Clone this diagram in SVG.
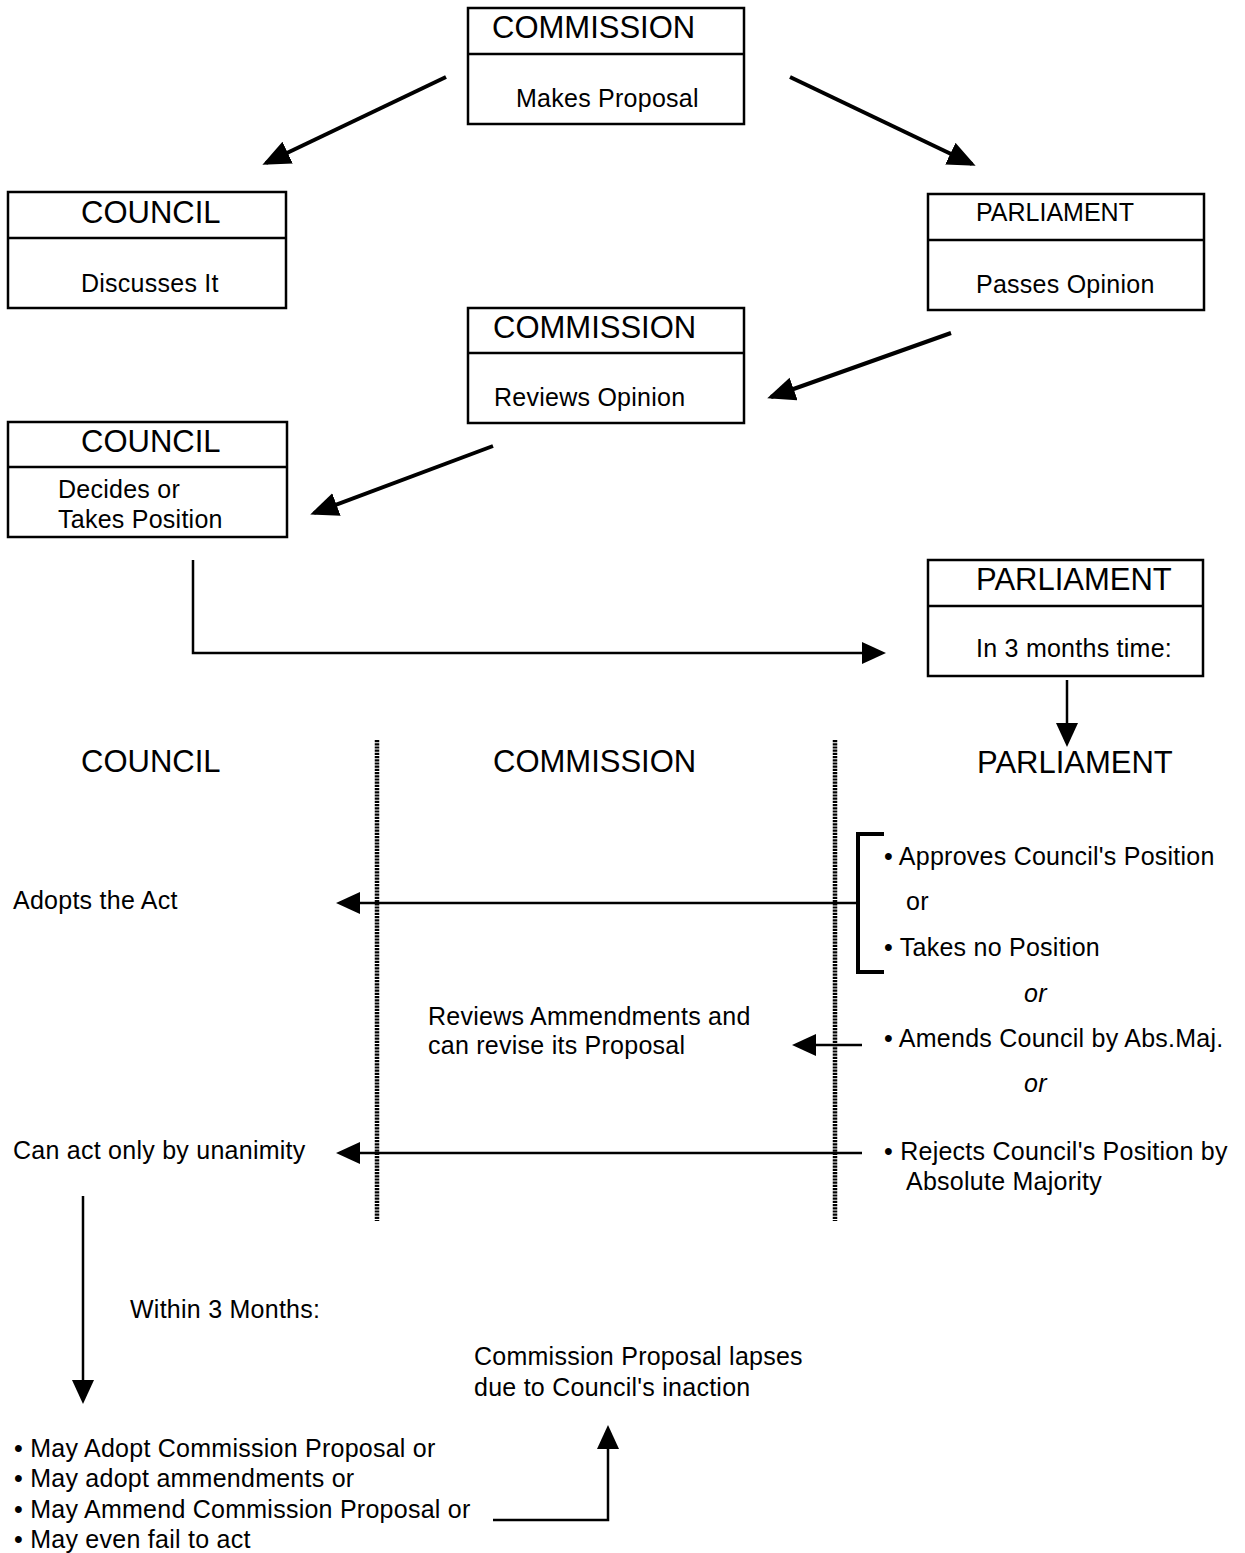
<svg xmlns="http://www.w3.org/2000/svg" width="1245" height="1553" viewBox="0 0 1245 1553">
  <defs>
    <style>
      .box { fill: #fff; stroke: #000; stroke-width: 2.5; }
      .div { stroke: #000; stroke-width: 2.5; }
      .hd { font-family: "Liberation Sans", Arial, sans-serif; font-size: 31px; fill: #000; }
      .hs { font-family: "Liberation Sans", Arial, sans-serif; font-size: 25px; fill: #000; }
      .tx { font-family: "Liberation Sans", Arial, sans-serif; font-size: 25px; fill: #000; letter-spacing: 0.25px; }
      .it { font-style: italic; }
      .con { fill: none; stroke: #000; stroke-width: 2.5; }
      .thick { stroke-width: 4; }
      .dots { fill: none; stroke: #000; stroke-width: 4.5; stroke-dasharray: 2.2 1; }
    </style>
    <marker id="bigHead" markerUnits="userSpaceOnUse" markerWidth="30" markerHeight="26" refX="24" refY="12" orient="auto">
      <path d="M0,0 L28,12 L0,24 z" fill="#000"/>
    </marker>
    <marker id="head" markerUnits="userSpaceOnUse" markerWidth="26" markerHeight="24" refX="20" refY="11" orient="auto">
      <path d="M0,0 L24,11 L0,22 z" fill="#000"/>
    </marker>
  </defs>

  <rect width="1245" height="1553" fill="#fff"/>

  <!-- first stage boxes -->
  <g id="commission-proposal">
    <rect class="box" x="468" y="8" width="276" height="116"/>
    <line class="div" x1="468" y1="54" x2="744" y2="54"/>
    <text class="hd" x="492" y="38">COMMISSION</text>
    <text class="tx" x="516" y="107">Makes Proposal</text>
  </g>
  <g id="council-discusses">
    <rect class="box" x="8" y="192" width="278" height="116"/>
    <line class="div" x1="8" y1="238" x2="286" y2="238"/>
    <text class="hd" x="81" y="223">COUNCIL</text>
    <text class="tx" x="81" y="292">Discusses It</text>
  </g>
  <g id="parliament-opinion">
    <rect class="box" x="928" y="194" width="276" height="116"/>
    <line class="div" x1="928" y1="240" x2="1204" y2="240"/>
    <text class="hs" x="976" y="221">PARLIAMENT</text>
    <text class="tx" x="976" y="293">Passes Opinion</text>
  </g>
  <g id="commission-reviews">
    <rect class="box" x="468" y="308" width="276" height="115"/>
    <line class="div" x1="468" y1="353" x2="744" y2="353"/>
    <text class="hd" x="493" y="338">COMMISSION</text>
    <text class="tx" x="494" y="406">Reviews Opinion</text>
  </g>
  <g id="council-decides">
    <rect class="box" x="8" y="422" width="279" height="115"/>
    <line class="div" x1="8" y1="467" x2="287" y2="467"/>
    <text class="hd" x="81" y="452">COUNCIL</text>
    <text class="tx" x="58" y="498">Decides or</text>
    <text class="tx" x="58" y="528">Takes Position</text>
  </g>
  <g id="parliament-3months">
    <rect class="box" x="928" y="560" width="275" height="116"/>
    <line class="div" x1="928" y1="606" x2="1203" y2="606"/>
    <text class="hd" x="976" y="590" font-size="30">PARLIAMENT</text>
    <text class="tx" x="976" y="657">In 3 months time:</text>
  </g>

  <!-- column headings and lane separators -->
  <g id="lanes">
    <text class="hd" x="81" y="772">COUNCIL</text>
    <text class="hd" x="493" y="772">COMMISSION</text>
    <text class="hd" x="977" y="773" font-size="30">PARLIAMENT</text>
    <line class="dots" x1="377" y1="740" x2="377" y2="1221"/>
    <line class="dots" x1="835" y1="740" x2="835" y2="1221"/>
  </g>

  <!-- parliament options -->
  <g id="parliament-options">
    <path class="con thick" d="M884,834 H858 V972 H884"/>
    <text class="tx" x="884" y="865">• Approves Council's Position</text>
    <text class="tx" x="906" y="910">or</text>
    <text class="tx" x="884" y="956">• Takes no Position</text>
    <text class="tx it" x="1024" y="1002">or</text>
    <text class="tx" x="884" y="1047">• Amends Council by Abs.Maj.</text>
    <text class="tx it" x="1024" y="1092">or</text>
    <text class="tx" x="884" y="1160">• Rejects Council's Position by</text>
    <text class="tx" x="906" y="1190">Absolute Majority</text>
  </g>

  <g id="council-adopts">
    <text class="tx" x="13" y="909">Adopts the Act</text>
  </g>
  <g id="commission-amendments">
    <text class="tx" x="428" y="1025">Reviews Ammendments and</text>
    <text class="tx" x="428" y="1054">can revise its Proposal</text>
  </g>
  <g id="council-unanimity">
    <text class="tx" x="13" y="1159">Can act only by unanimity</text>
  </g>
  <g id="within-3-months">
    <text class="tx" x="130" y="1318">Within 3 Months:</text>
  </g>
  <g id="proposal-lapses">
    <text class="tx" x="474" y="1365">Commission Proposal lapses</text>
    <text class="tx" x="474" y="1396">due to Council's inaction</text>
  </g>
  <g id="council-options">
    <text class="tx" x="14" y="1457">• May Adopt Commission Proposal or</text>
    <text class="tx" x="14" y="1487">• May adopt ammendments or</text>
    <text class="tx" x="14" y="1518">• May Ammend Commission Proposal or</text>
    <text class="tx" x="14" y="1548">• May even fail to act</text>
  </g>

  <!-- connectors -->
  <g id="connectors">
    <path class="con thick" d="M446,77 L266,163" marker-end="url(#bigHead)"/>
    <path class="con thick" d="M790,77 L972,164" marker-end="url(#bigHead)"/>
    <path class="con thick" d="M951,333 L771,397" marker-end="url(#bigHead)"/>
    <path class="con thick" d="M493,446 L314,513" marker-end="url(#bigHead)"/>
    <path class="con" d="M193,560 V653 H882" marker-end="url(#head)"/>
    <path class="con" d="M1067,680 V743" marker-end="url(#head)"/>
    <path class="con" d="M858,903 H340" marker-end="url(#head)"/>
    <path class="con" d="M862,1045 H796" marker-end="url(#head)"/>
    <path class="con" d="M862,1153 H340" marker-end="url(#head)"/>
    <path class="con" d="M83,1196 V1400" marker-end="url(#head)"/>
    <path class="con" d="M493,1520 H608 V1429" marker-end="url(#head)"/>
  </g>
</svg>
